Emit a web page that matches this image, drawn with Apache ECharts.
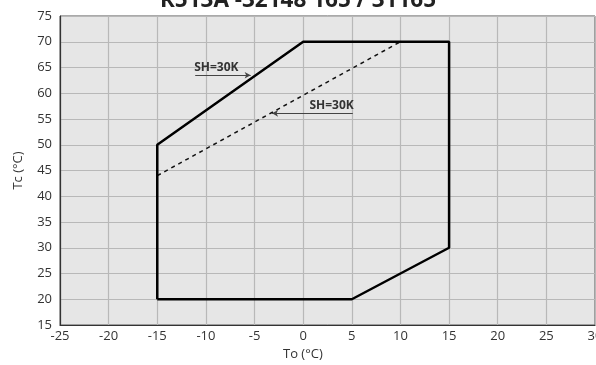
<!DOCTYPE html>
<html>
<head>
<meta charset="utf-8">
<script src="https://cdn.jsdelivr.net/npm/echarts@6/dist/echarts.min.js"></script>
<style>
  html, body { margin: 0; padding: 0; background: #fff; }
  #chart { width: 596px; height: 365px; }
</style>
</head>
<body>
<div id="chart"></div>
<script>
// Operating envelope, evaporating temperature To vs condensing temperature Tc
var envelopeTo = [-15, -15, 0, 15, 15, 5, -15];
var envelopeTc = [20, 50, 70, 70, 30, 20, 20];

// SH=30K limit line (dashed)
var shLineTo = [-15, 10];
var shLineTc = [44, 70];

// Annotation leaders: [fromTo, fromTc, toTo, toTc]
var noteUpper = [-11.1, 63.5, -5.4, 63.5];
var noteLower = [5.1, 56.1, -3.2, 56.1];
var noteText = 'SH=30K';

var xTicks = { min: -25, max: 30, step: 5 };
var yTicks = { min: 15, max: 75, step: 5 };

var titleText = 'R513A -32148 165 / 31165';

function zip(a, b) { return a.map(function (v, i) { return [v, b[i]]; }); }

var font = '"Open Sans", "Noto Sans", sans-serif';
var chart = echarts.init(document.getElementById('chart'));

chart.setOption({
  animation: false,
  backgroundColor: '#ffffff',
  title: {
    text: titleText,
    left: 'center',
    top: -16,
    textStyle: { fontFamily: font, fontWeight: 'bold', fontSize: 22.5, color: '#222' }
  },
  grid: {
    left: 60, right: 1, top: 16, bottom: 40,
    outerBoundsMode: 'none',
    show: true, backgroundColor: '#e6e6e6', borderColor: '#555', borderWidth: 1
  },
  graphic: [{
    type: 'text', left: 283, top: 348,
    style: { text: 'To (°C)', font: '13px ' + font, fill: '#333' }
  }],
  xAxis: {
    type: 'value', min: xTicks.min, max: xTicks.max, interval: xTicks.step,
    axisLine: { onZero: false, lineStyle: { color: '#333', width: 1.2 } },
    axisTick: { show: false },
    axisLabel: { color: '#333', fontFamily: font, fontSize: 13, margin: 5 },
    splitLine: { lineStyle: { color: '#b8b8b8', width: 1.2 } }
  },
  yAxis: {
    type: 'value', min: yTicks.min, max: yTicks.max, interval: yTicks.step,
    name: 'Tc (°C)', nameLocation: 'middle', nameGap: 35,
    nameTextStyle: { color: '#333', fontFamily: font, fontSize: 13 },
    axisLine: { show: true, onZero: false, lineStyle: { color: '#333', width: 1.2 } },
    axisTick: { show: false },
    axisLabel: { color: '#333', fontFamily: font, fontSize: 13, margin: 8 },
    splitLine: { lineStyle: { color: '#b8b8b8', width: 1.2 } }
  },
  series: [
    {
      type: 'line', data: zip(envelopeTo, envelopeTc), symbol: 'none',
      lineStyle: { color: '#000', width: 2.5 }, z: 5
    },
    {
      type: 'line', data: zip(shLineTo, shLineTc), symbol: 'none',
      lineStyle: { color: '#111', width: 1.5, type: [4, 4] }, z: 4,
      markLine: {
        silent: true, symbol: ['none', 'arrow'], symbolSize: [5, 6],
        lineStyle: { color: '#444', width: 1, type: 'solid' },
        label: {
          show: true, formatter: noteText, color: '#333',
          fontFamily: font, fontWeight: 'bold', fontSize: 12
        },
        data: [
          [
            { coord: [noteUpper[0], noteUpper[1]],
              label: { position: 'insideStartTop', distance: [-1, 2] } },
            { coord: [noteUpper[2], noteUpper[3]] }
          ],
          [
            { coord: [noteLower[0], noteLower[1]],
              label: { position: 'insideStartTop', distance: [-1, 2] } },
            { coord: [noteLower[2], noteLower[3]] }
          ]
        ]
      }
    }
  ]
});
</script>
</body>
</html>
